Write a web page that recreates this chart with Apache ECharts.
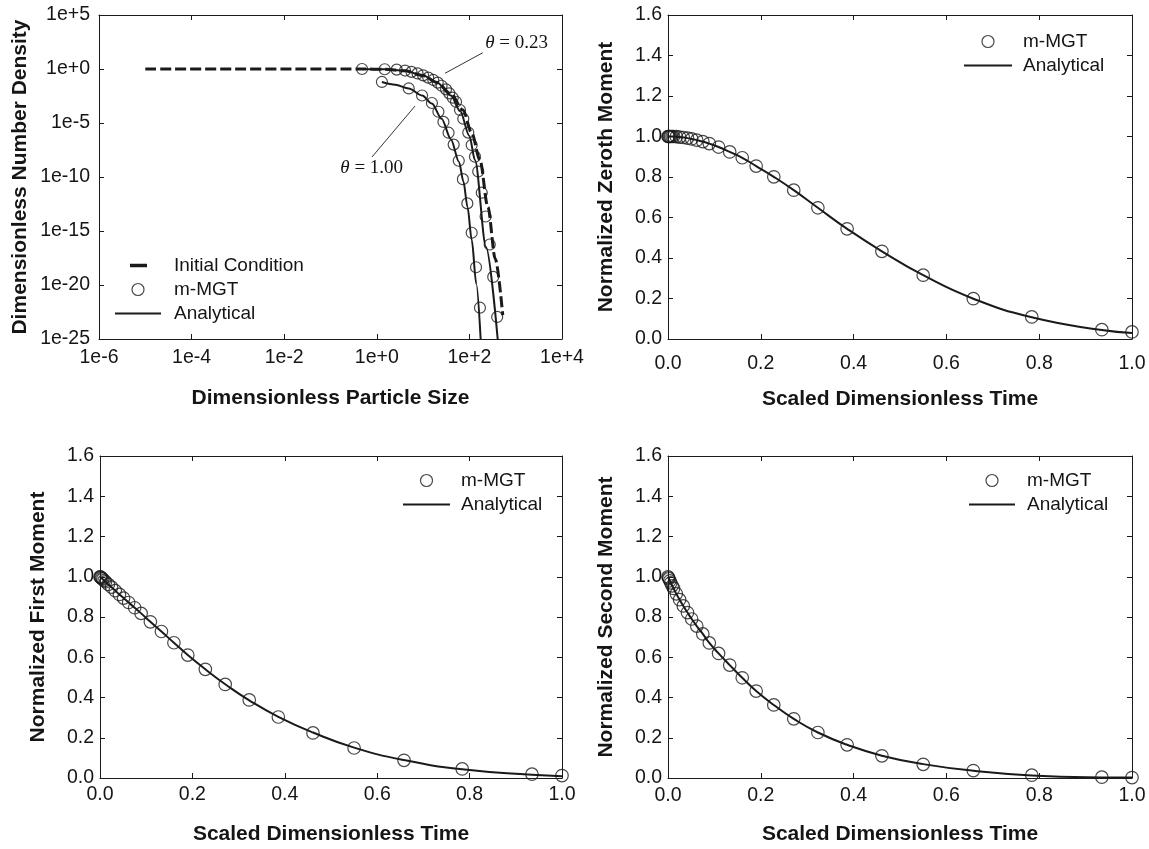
<!DOCTYPE html>
<html><head><meta charset="utf-8">
<script src="https://cdn.jsdelivr.net/npm/echarts@6/dist/echarts.min.js"></script>
<style>html,body{margin:0;padding:0;background:#fff}#c{width:1149px;height:849px}</style>
</head><body><div id="c"></div>
<script>
// ---------- Panel A: dimensionless number density vs particle size, [size, density] ----------
const initialCondition = [[1e-5,1],[0.48,1],[1.48,0.93],[3.98,0.68],[10,0.25],[20,0.056],[39.8,5e-3],[72.4,1.6e-4],[112,1.26e-6],[169,3.7e-9],[251,1.6e-13],[363,2.5e-18],[525,1.6e-23]];
const mgtTheta023 = [[0.48,1],[1.48,0.95],[2.69,0.87],[4.07,0.72],[5.62,0.54],[7.59,0.39],[10.0,0.26],[12.9,0.16],[16.6,0.097],[20.7,0.055],[25.1,0.028],[31.3,0.013],[36.8,5.6e-3],[43.7,2.2e-3],[51.4,9.3e-4],[62.7,1.6e-4],[73.8,2.5e-5],[94.6,1.3e-6],[112,9.1e-8],[132,7.6e-9],[155,3.2e-10],[185,3.5e-12],[224,2.2e-14],[275,5.6e-17],[327,5.6e-20],[398,1.1e-23]];
const anaTheta023 = [[0.48,1],[1.48,0.93],[3.98,0.68],[10,0.25],[20,0.056],[39.8,3.5e-3],[63,1.26e-4],[100,6.3e-7],[132,3.7e-9],[229,3.2e-17],[408,1e-25]];
const mgtTheta100 = [[1.29,0.063],[4.9,0.0158],[9.5,3.5e-3],[15.5,7.1e-4],[21.4,1.1e-4],[27.5,1.26e-5],[35.5,1.26e-6],[45.7,1e-7],[58.9,3.2e-9],[72.4,6.3e-11],[90.2,3.6e-13],[112,6.9e-16],[139,4.4e-19],[169,7.9e-23]];
const anaTheta100 = [[1.29,0.063],[2.51,0.035],[4.9,0.0158],[9.55,3.5e-3],[15.5,6.3e-4],[25.1,2.5e-5],[39.8,3.2e-7],[59.7,2.5e-9],[74.1,4e-11],[91.2,1.6e-13],[112,1.6e-16],[141,1.26e-20],[175,1e-25]];
const sizeTicks = [1e-6, 1e-4, 1e-2, 1e0, 1e2, 1e4];
const sizeTickLabels = ['1e-6','1e-4','1e-2','1e+0','1e+2','1e+4'];
const densityTicks = [1e-25, 1e-20, 1e-15, 1e-10, 1e-5, 1e0, 1e5];
const densityTickLabels = ['1e-25','1e-20','1e-15','1e-10','1e-5','1e+0','1e+5'];
const thetaNotes = [{name:'0.23', coord:[1047,240]}, {name:'1.00', coord:[0.776,6.3e-10]}];
const thetaArrows = [[[194,32],[29.7,0.4]], [[0.787,7.1e-9],[6.68,3.7e-4]]];

// ---------- Panels B-D: normalized moments vs scaled dimensionless time ----------
const timeMGT = [0,0.001,0.002,0.004,0.006,0.009,0.012,0.018,0.025,0.033,0.042,0.051,0.062,0.075,0.089,0.109,0.133,0.16,0.19,0.228,0.271,0.323,0.386,0.461,0.55,0.658,0.784,0.935,1.0];
const zerothMGT = [1.0,1.0,1.0,1.0,1.0,1.0,1.0,0.999,0.997,0.995,0.992,0.988,0.982,0.975,0.965,0.948,0.924,0.895,0.854,0.801,0.735,0.648,0.544,0.433,0.315,0.199,0.109,0.046,0.035];
const zerothAna = [1.0,1.0,1.0,1.0,1.0,1.0,1.0,0.999,0.997,0.995,0.992,0.988,0.982,0.975,0.965,0.948,0.924,0.895,0.854,0.801,0.735,0.648,0.544,0.433,0.315,0.199,0.107,0.044,0.030];
const firstMGT = [1.0,0.998,0.996,0.992,0.988,0.981,0.975,0.962,0.948,0.931,0.912,0.894,0.872,0.846,0.818,0.776,0.728,0.672,0.611,0.54,0.465,0.388,0.303,0.224,0.149,0.088,0.045,0.019,0.012];
const firstAna = [1.0,0.998,0.996,0.992,0.988,0.981,0.975,0.962,0.948,0.931,0.912,0.894,0.872,0.846,0.818,0.776,0.728,0.672,0.611,0.54,0.466,0.386,0.304,0.226,0.151,0.089,0.043,0.016,0.009];
const secondMGT = [1.0,0.995,0.99,0.98,0.97,0.955,0.942,0.915,0.886,0.855,0.822,0.79,0.755,0.716,0.671,0.619,0.561,0.498,0.432,0.363,0.294,0.226,0.165,0.11,0.068,0.037,0.014,0.004,0.002];
const secondAna = [1.0,0.995,0.99,0.98,0.97,0.955,0.942,0.915,0.886,0.855,0.822,0.79,0.755,0.716,0.671,0.619,0.561,0.498,0.432,0.363,0.294,0.226,0.165,0.111,0.069,0.036,0.013,0.003,0.002];
const momentTickLabels = ['0.0','0.2','0.4','0.6','0.8','1.0','1.2','1.4','1.6'];
const timeTickLabels = ['0.0','0.2','0.4','0.6','0.8','1.0'];

// ---------- build ----------
const TXT = '#151515';
const INK = '#1a1a1a';
const FONT = "'Liberation Sans', Arial, Helvetica, sans-serif";
const SERIF = "'Liberation Serif', 'Times New Roman', serif";
const pair = (xs, ys) => xs.map((x, i) => [x, ys[i]]);
const pick = (arr, i) => (i >= 0 && i < arr.length) ? arr[i] : '';

const grids = [
  {left:99, top:15, width:463, height:324},
  {left:668, top:15, width:464, height:324},
  {left:100, top:456, width:462, height:322},
  {left:668, top:456, width:464, height:322}
].map(g => Object.assign(g, {containLabel:false, outerBoundsMode:'none'}));

function axis(o) {
  const a = {
    gridIndex:o.grid, type:o.type, min:o.min, max:o.max, interval:o.interval, position:o.pos,
    axisLine:{show:true, onZero:false, lineStyle:{color:INK, width:1}},
    axisTick:{show:true, inside:true, length:5, lineStyle:{color:INK, width:1}},
    minorTick:{show:false}, splitLine:{show:false},
    axisLabel:{show:!!o.fmt, formatter:o.fmt, margin:o.margin, fontSize:19.5, color:TXT, fontFamily:FONT,
      showMinLabel:true, showMaxLabel:true, hideOverlap:false},
    nameMoveOverlap:false,
    silent:true
  };
  if (o.type === 'log') {
    a.logBase = 10; a.splitNumber = o.split;
    if (o.ticks) { a.axisLabel.customValues = o.ticks; a.axisTick.customValues = o.ticks; }
  }
  if (o.name) Object.assign(a, {name:o.name, nameLocation:'middle', nameGap:o.gap,
    nameTextStyle:{fontSize:21, fontWeight:'bold', color:TXT, fontFamily:FONT}});
  return a;
}
// log ticks: label looked up from the tick value list (nearest decade)
function logLabel(ticks, labels) {
  return v => {
    if (!(v > 0)) return labels[0];
    const lv = Math.log10(v);
    let best = 0;
    ticks.forEach((t, i) => { if (Math.abs(Math.log10(t) - lv) < Math.abs(Math.log10(ticks[best]) - lv)) best = i; });
    return labels[best];
  };
}
const sizeFmt = logLabel(sizeTicks, sizeTickLabels);
const densFmt = logLabel(densityTicks, densityTickLabels);
const momFmt = v => pick(momentTickLabels, Math.round(v / 0.2));
const timeFmt = v => pick(timeTickLabels, Math.round(v / 0.2));

const xAxes = [
  axis({grid:0,type:'log',min:1e-6,max:1e4,interval:2,split:5,ticks:sizeTicks,pos:'bottom',fmt:sizeFmt,margin:9,name:'Dimensionless Particle Size',gap:49}),
  axis({grid:0,type:'log',min:1e-6,max:1e4,interval:2,split:5,ticks:sizeTicks,pos:'top'}),
  axis({grid:1,type:'value',min:0,max:1,interval:0.2,pos:'bottom',fmt:timeFmt,margin:15,name:'Scaled Dimensionless Time',gap:50}),
  axis({grid:1,type:'value',min:0,max:1,interval:0.2,pos:'top'}),
  axis({grid:2,type:'value',min:0,max:1,interval:0.2,pos:'bottom',fmt:timeFmt,margin:7,name:'Scaled Dimensionless Time',gap:46}),
  axis({grid:2,type:'value',min:0,max:1,interval:0.2,pos:'top'}),
  axis({grid:3,type:'value',min:0,max:1,interval:0.2,pos:'bottom',fmt:timeFmt,margin:8,name:'Scaled Dimensionless Time',gap:46}),
  axis({grid:3,type:'value',min:0,max:1,interval:0.2,pos:'top'})
];
const yAxes = [
  axis({grid:0,type:'log',min:1e-25,max:1e5,interval:5,split:6,ticks:densityTicks,pos:'left',fmt:densFmt,margin:9,name:'Dimensionless Number Density',gap:68}),
  axis({grid:0,type:'log',min:1e-25,max:1e5,interval:5,split:6,ticks:densityTicks,pos:'right'}),
  axis({grid:1,type:'value',min:0,max:1.6,interval:0.2,pos:'left',fmt:momFmt,margin:6,name:'Normalized Zeroth Moment',gap:51}),
  axis({grid:1,type:'value',min:0,max:1.6,interval:0.2,pos:'right'}),
  axis({grid:2,type:'value',min:0,max:1.6,interval:0.2,pos:'left',fmt:momFmt,margin:6,name:'Normalized First Moment',gap:51}),
  axis({grid:2,type:'value',min:0,max:1.6,interval:0.2,pos:'right'}),
  axis({grid:3,type:'value',min:0,max:1.6,interval:0.2,pos:'left',fmt:momFmt,margin:6,name:'Normalized Second Moment',gap:51}),
  axis({grid:3,type:'value',min:0,max:1.6,interval:0.2,pos:'right'})
];

const circleStyle = {color:'transparent', borderColor:INK, borderWidth:1.2};
function mgt(ax, data, size) {
  return {name:'m-MGT', type:'scatter', xAxisIndex:ax, yAxisIndex:ax, data, symbol:'circle', symbolSize:size,
    itemStyle:circleStyle, z:3, silent:true};
}
function ana(ax, data, smooth) {
  return {name:'Analytical', type:'line', xAxisIndex:ax, yAxisIndex:ax, data, symbol:'none', showSymbol:false,
    smooth:smooth, lineStyle:{color:INK, width:2}, itemStyle:{color:INK}, z:4, silent:true};
}

const upper = ana(0, anaTheta023, 0.3);
upper.smoothMonotone = 'x';
upper.markLine = {
  silent:true, symbol:['none','arrow'], symbolSize:[0,9], animation:false,
  lineStyle:{color:'#333', width:1, type:'solid'}, label:{show:false},
  data: thetaArrows.map(a => [{coord:a[0]}, {coord:a[1]}])
};
upper.markPoint = {
  silent:true, symbol:'circle', symbolSize:1, itemStyle:{color:'transparent'}, animation:false,
  label:{show:true, position:'inside', color:TXT, fontSize:19, fontFamily:SERIF,
    formatter: p => '{i|\u03b8} = ' + p.name,
    rich:{i:{fontStyle:'italic', fontSize:19, fontFamily:SERIF, color:TXT}}},
  data: thetaNotes
};
const lower = ana(0, anaTheta100, 0.3);
lower.smoothMonotone = 'x';

const series = [
  {name:'Initial Condition', type:'line', xAxisIndex:0, yAxisIndex:0, data:initialCondition, symbol:'none',
   smooth:0.3, smoothMonotone:'x', lineStyle:{color:INK, width:3, type:[11,4]}, itemStyle:{color:INK}, z:2, silent:true},
  upper,
  lower,
  mgt(0, mgtTheta023, 11),
  mgt(0, mgtTheta100, 11),
  ana(2, pair(timeMGT, zerothAna), true), mgt(2, pair(timeMGT, zerothMGT), 12.5),
  ana(4, pair(timeMGT, firstAna), true), mgt(4, pair(timeMGT, firstMGT), 12.5),
  ana(6, pair(timeMGT, secondAna), true), mgt(6, pair(timeMGT, secondMGT), 12.5)
];

function legend(left, top, w, pad, names) {
  return {
    left, top, orient:'vertical', align:'left', padding:0, itemGap:5, itemWidth:w, itemHeight:12,
    selectedMode:false,
    textStyle:{fontSize:19, color:TXT, fontFamily:FONT, padding:[0,0,0,pad]},
    data: names.map(n => {
      if (n === 'Initial Condition') return {name:n, icon:'path://M0,0L0.01,0M15,4.3L32,4.3L32,7.7L15,7.7ZM46,12L45.99,12', itemStyle:{color:INK, borderWidth:0}};
      if (n === 'm-MGT') return {name:n, icon:'circle', itemStyle:{color:'transparent', borderColor:INK, borderWidth:1.2}};
      return {name:n, icon:'path://M0,5L' + w + ',5L' + w + ',7L0,7Z', itemStyle:{color:INK, borderWidth:0}};
    })
  };
}

const option = {
  animation:false,
  backgroundColor:'#fff',
  grid: grids,
  xAxis: xAxes,
  yAxis: yAxes,
  legend: [
    legend(115, 256, 46, 8, ['Initial Condition','m-MGT','Analytical']),
    legend(964, 32, 48, 6, ['m-MGT','Analytical']),
    legend(403, 471, 47, 6, ['m-MGT','Analytical']),
    legend(969, 471, 46, 7, ['m-MGT','Analytical'])
  ],
  series
};
const chart = echarts.init(document.getElementById('c'), null, {renderer:'canvas'});
chart.setOption(option);
</script></body></html>
